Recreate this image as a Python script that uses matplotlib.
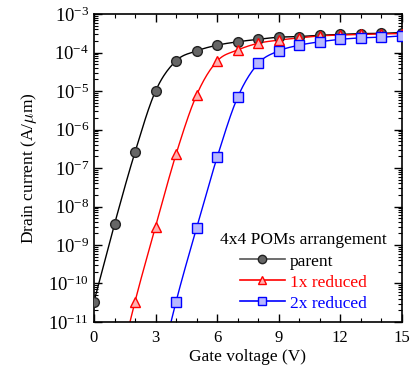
import numpy as np
import matplotlib
matplotlib.use("Agg")
import matplotlib.pyplot as plt
from matplotlib.ticker import MultipleLocator, LogLocator, NullFormatter

plt.rcParams['font.family'] = ['Liberation Serif', 'DejaVu Serif']
plt.rcParams['mathtext.fontset'] = 'cm'

# gate voltage (V)
vg = [0, 1, 2, 3, 4, 5, 6, 7, 8, 9, 10, 11, 12, 13, 14, 15]
vg_red = [1] + vg[2:]
vg_blue = [3] + vg[4:]

# drain current (A/um), first red / blue points sit below the axis
parent = [3.4e-11, 3.5e-9, 2.6e-7, 1.0e-5, 6.1e-5, 1.1e-4, 1.55e-4, 1.9e-4,
          2.2e-4, 2.5e-4, 2.6e-4, 2.8e-4, 2.95e-4, 3.1e-4, 3.15e-4, 3.3e-4]
red_1x = [2e-13, 3.4e-11, 3.0e-9, 2.3e-7, 7.9e-6, 6.0e-5, 1.16e-4, 1.74e-4,
          2.1e-4, 2.4e-4, 2.7e-4, 2.85e-4, 2.95e-4, 3.05e-4, 3.1e-4]
blue_2x = [2e-13, 3.4e-11, 2.8e-9, 1.9e-7, 6.9e-6, 5.2e-5, 1.1e-4, 1.55e-4,
           1.9e-4, 2.2e-4, 2.4e-4, 2.5e-4, 2.7e-4]

labels = ['parent', '1x reduced', '2x reduced']


def smooth(x, y, n=20):
    # cubic hermite through the points in log space, just for a smooth line
    x = np.asarray(x, float)
    ly = np.log10(y)
    m = np.gradient(ly, x)
    xs, ys = [], []
    for i in range(len(x) - 1):
        h = x[i + 1] - x[i]
        t = np.linspace(0, 1, n, endpoint=False)
        h00 = 2 * t**3 - 3 * t**2 + 1
        h10 = t**3 - 2 * t**2 + t
        h01 = -2 * t**3 + 3 * t**2
        h11 = t**3 - t**2
        xs.append(x[i] + t * h)
        ys.append(h00 * ly[i] + h10 * h * m[i] + h01 * ly[i + 1] + h11 * h * m[i + 1])
    xs.append([x[-1]])
    ys.append([ly[-1]])
    return np.concatenate(xs), 10 ** np.concatenate(ys)


fig = plt.figure(figsize=(4.13, 3.69), dpi=100)
ax = fig.add_axes([0.2276, 0.1274, 0.7454, 0.8346])

series = [
    (vg, parent, 'o', 'black', '#555555', '#666666', '#222222'),
    (vg_red, red_1x, '^', 'red', 'red', '#ffb0b0', 'red'),
    (vg_blue, blue_2x, 's', 'blue', 'blue', '#b8b8ff', 'blue'),
]

handles = []
for (x, y, mk, lc, hc, fc, ec), lab in zip(series, labels):
    sx, sy = smooth(x, y)
    ax.plot(sx, sy, color=lc, lw=1.0, zorder=2)
    ax.plot(x, y, ls='none', marker=mk, ms=7, mfc=fc, mec=ec, mew=1.0, zorder=3)
    h, = ax.plot([], [], color=hc, lw=1.2, marker=mk, ms=6, mfc=fc, mec=ec, label=lab)
    handles.append(h)

ax.set_yscale('log')
ax.set_xlim(0, 15)
ax.set_ylim(1e-11, 1e-3)
ax.xaxis.set_major_locator(MultipleLocator(3))
ax.xaxis.set_minor_locator(MultipleLocator(1))
ax.yaxis.set_major_locator(LogLocator(base=10, numticks=20))
ax.yaxis.set_minor_locator(LogLocator(base=10, subs=np.arange(2, 10), numticks=20))
ax.yaxis.set_minor_formatter(NullFormatter())
ax.tick_params(which='both', direction='in', top=True, right=True, labelsize=12)
ax.tick_params(axis='y', labelsize=13.5)
ax.tick_params(which='major', length=6, width=1)
ax.tick_params(which='minor', length=3, width=0.8)
ax.tick_params(axis='x', pad=6)
for s in ax.spines.values():
    s.set_linewidth(1.2)

ax.set_xlabel('Gate voltage (V)', fontsize=12.5, labelpad=2)
ax.set_ylabel(r'Drain current (A/$\mu$m)', fontsize=12.5, labelpad=7)

leg = ax.legend(handles=handles, loc='lower right', bbox_to_anchor=(0.985, 0.0),
                frameon=False, title='4x4 POMs arrangement', fontsize=12.5,
                title_fontsize=12.5, handlelength=2.6, handletextpad=0.3,
                labelspacing=0.28, borderaxespad=0.2)
leg._legend_box.sep = 4
for txt, c in zip(leg.get_texts(), ['black', 'red', 'blue']):
    txt.set_color(c)

fig.savefig('out.png', dpi=100)
